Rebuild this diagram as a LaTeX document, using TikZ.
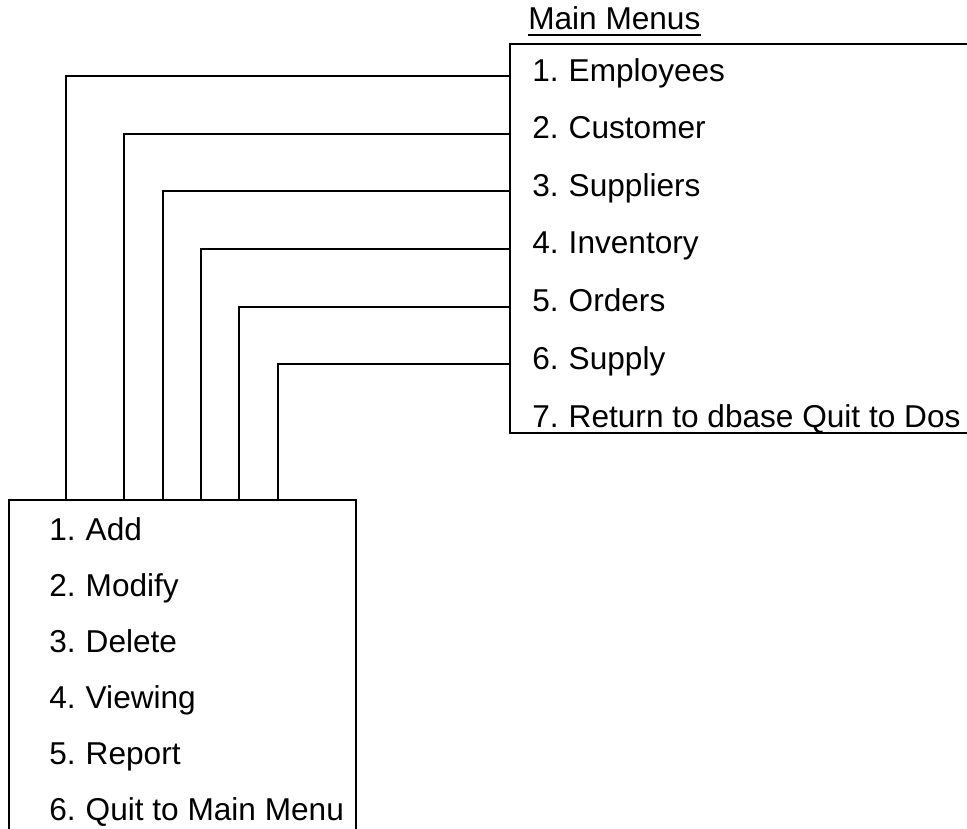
\documentclass[tikz,border=0pt]{standalone}
\usepackage{fontspec}
\setmainfont{Liberation Sans}
\newcommand{\gap}{\hspace{0.32em}}
\begin{document}
\begin{tikzpicture}[x=0.75pt,y=-0.75pt,
  rule/.style={line width=1.6pt, line join=miter},
  menubox/.style={rule, draw, rectangle, inner sep=0pt, anchor=north west},
  item/.style={anchor=base west, inner sep=0pt, text height=0.716em, text depth=0pt,
               font=\fontsize{23.7}{28}\selectfont},
  wire/.style={rule}]
\useasboundingbox (0,0) rectangle (967,828);

% title of the main menu, underlined
\node[item] (title) at (528,29) {Main Menus};
\draw[line width=1.5pt] ([yshift=-4.6pt]title.south west) -- ([yshift=-4.6pt]title.south east);

% main menu frame (its right side runs off the page)
\node[menubox, minimum width=700*0.75pt, minimum height=389*0.75pt] (mainbox) at (509,43) {};

% main menu entries
\node[item] (e1) at (532,81)    {1.\gap Employees};
\node[item] (e2) at (532,138.6) {2.\gap Customer};
\node[item] (e3) at (532,196.2) {3.\gap Suppliers};
\node[item] (e4) at (532,253.8) {4.\gap Inventory};
\node[item] (e5) at (532,311.4) {5.\gap Orders};
\node[item] (e6) at (532,369)   {6.\gap Supply};
\node[item] (e7) at (532,427)   {7.\gap Return to dbase Quit to Dos};

% sub menu frame (its bottom runs off the page)
\node[menubox, minimum width=347*0.75pt, minimum height=400*0.75pt] (subbox) at (8,499) {};

% sub menu entries
\node[item] (s1) at (49,540) {1.\gap Add};
\node[item] (s2) at (49,596) {2.\gap Modify};
\node[item] (s3) at (49,652) {3.\gap Delete};
\node[item] (s4) at (49,708) {4.\gap Viewing};
\node[item] (s5) at (49,764) {5.\gap Report};
\node[item] (s6) at (49,820) {6.\gap Quit to Main Menu};

% drop points on the sub menu's top edge
\coordinate (d1) at (66,499);
\coordinate (d2) at (124,499);
\coordinate (d3) at (163,499);
\coordinate (d4) at (201,499);
\coordinate (d5) at (239,499);
\coordinate (d6) at (278,499);

% links from each main entry down to the sub menu
\draw[wire] (mainbox.west |- e1.center) -| (d1);
\draw[wire] (mainbox.west |- e2.center) -| (d2);
\draw[wire] (mainbox.west |- e3.center) -| (d3);
\draw[wire] (mainbox.west |- e4.center) -| (d4);
\draw[wire] (mainbox.west |- e5.center) -| (d5);
\draw[wire] (mainbox.west |- e6.center) -| (d6);
\end{tikzpicture}
\end{document}
